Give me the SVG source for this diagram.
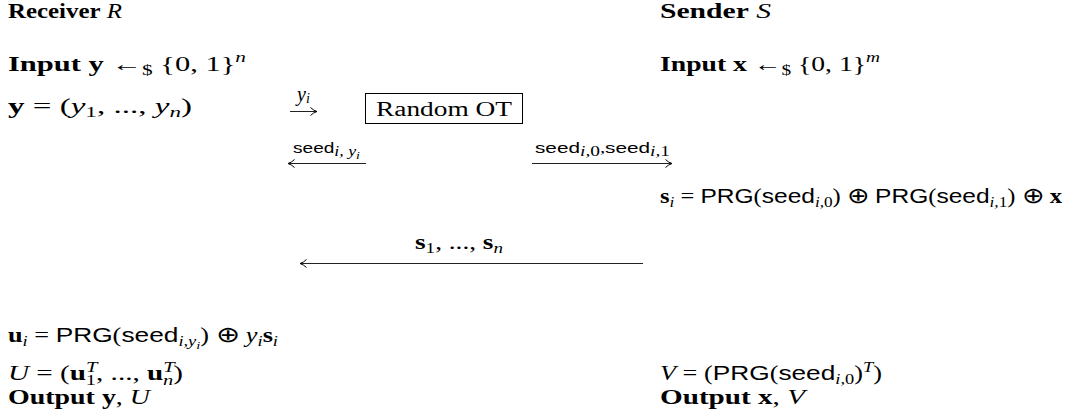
<svg xmlns="http://www.w3.org/2000/svg" width="1073" height="414" viewBox="0 0 1073 414">
  <style>
    text { font-family: "Liberation Serif", "DejaVu Serif", serif; font-size: 20px; fill: #000; }
    .b { font-weight: bold; }
    .i { font-style: italic; }
    .sf { font-family: "Liberation Sans", "DejaVu Sans", sans-serif; font-style: normal; }
    .s { font-size: 14px; }
    .ss { font-size: 11px; }
    .lbl { font-size: 15px; }
    .op { font-family: "DejaVu Sans", sans-serif; font-weight: 200; font-size: 22px; }
    .box { fill: #fff; stroke: #000; stroke-width: 1; }
    .arrow { stroke: #222; stroke-width: 1; fill: none; marker-end: url(#head); }
  </style>
  <defs>
    <marker id="head" viewBox="0 0 8 10" refX="7.5" refY="5" markerWidth="8" markerHeight="10" orient="auto" markerUnits="userSpaceOnUse">
      <path d="M1,1 Q4,4 7.5,5 Q4,6 1,9" fill="none" stroke="#000" stroke-width="1"/>
    </marker>
  </defs>

  <!-- receiver column -->
  <g id="receiver">
    <text x="8" y="18" textLength="114" lengthAdjust="spacingAndGlyphs"><tspan class="b">Receiver</tspan> <tspan class="i">R</tspan></text>
    <text x="8" y="71" textLength="238" lengthAdjust="spacingAndGlyphs"><tspan class="b">Input y</tspan> ←<tspan class="s" dy="4">$</tspan><tspan dy="-4"> {0, 1}</tspan><tspan class="s i" dy="-9">n</tspan></text>
    <text x="8" y="113" textLength="184" lengthAdjust="spacingAndGlyphs"><tspan class="b">y</tspan> = (<tspan class="i">y</tspan><tspan class="s" dy="4">1</tspan><tspan dy="-4">, ..., </tspan><tspan class="i">y</tspan><tspan class="s i" dy="4">n</tspan><tspan dy="-4">)</tspan></text>
    <text x="8" y="342" textLength="270" lengthAdjust="spacingAndGlyphs"><tspan class="b">u</tspan><tspan class="s i" dy="4">i</tspan><tspan dy="-4"> = </tspan><tspan class="sf">PRG</tspan>(<tspan class="sf">seed</tspan><tspan class="s i" dy="4">i,y</tspan><tspan class="ss i" dy="3">i</tspan><tspan dy="-7">) </tspan><tspan class="op">⊕</tspan> <tspan class="i">y</tspan><tspan class="s i" dy="4">i</tspan><tspan class="b" dy="-4">s</tspan><tspan class="s i" dy="4">i</tspan></text>
    <text x="8" y="380" textLength="175" lengthAdjust="spacingAndGlyphs"><tspan class="i">U</tspan> = (<tspan class="b">u</tspan><tspan class="s i" dy="-8">T</tspan><tspan class="s" dx="-8" dy="13">1</tspan><tspan dy="-5">, ..., </tspan><tspan class="b">u</tspan><tspan class="s i" dy="-8">T</tspan><tspan class="s i" dx="-8" dy="13">n</tspan><tspan dy="-5">)</tspan></text>
    <text x="8" y="404" textLength="142" lengthAdjust="spacingAndGlyphs"><tspan class="b">Output y</tspan>, <tspan class="i">U</tspan></text>
  </g>

  <!-- sender column -->
  <g id="sender">
    <text x="660" y="18" textLength="111" lengthAdjust="spacingAndGlyphs"><tspan class="b">Sender</tspan> <tspan class="i">S</tspan></text>
    <text x="660" y="71" textLength="220" lengthAdjust="spacingAndGlyphs"><tspan class="b">Input x</tspan> ←<tspan class="s" dy="4">$</tspan><tspan dy="-4"> {0, 1}</tspan><tspan class="s i" dy="-9">m</tspan></text>
    <text x="660" y="203" textLength="402" lengthAdjust="spacingAndGlyphs"><tspan class="b">s</tspan><tspan class="s i" dy="4">i</tspan><tspan dy="-4"> = </tspan><tspan class="sf">PRG</tspan>(<tspan class="sf">seed</tspan><tspan class="s i" dy="4">i,</tspan><tspan class="s">0</tspan><tspan dy="-4">) </tspan><tspan class="op">⊕</tspan> <tspan class="sf">PRG</tspan>(<tspan class="sf">seed</tspan><tspan class="s i" dy="4">i,</tspan><tspan class="s">1</tspan><tspan dy="-4">) </tspan><tspan class="op">⊕</tspan> <tspan class="b">x</tspan></text>
    <text x="660" y="380" textLength="222" lengthAdjust="spacingAndGlyphs"><tspan class="i">V</tspan> = (<tspan class="sf">PRG</tspan>(<tspan class="sf">seed</tspan><tspan class="s i" dy="4">i,</tspan><tspan class="s">0</tspan><tspan dy="-4">)</tspan><tspan class="s i" dy="-8">T</tspan><tspan dy="8">)</tspan></text>
    <text x="660" y="404" textLength="145" lengthAdjust="spacingAndGlyphs"><tspan class="b">Output x</tspan>, <tspan class="i">V</tspan></text>
  </g>

  <!-- functionality box -->
  <g id="random-ot">
    <rect class="box" x="365.5" y="93.5" width="157" height="30"/>
    <text x="444" y="116" font-size="23" text-anchor="middle" textLength="136" lengthAdjust="spacingAndGlyphs">Random OT</text>
  </g>

  <!-- messages -->
  <g id="connectors">
    <line class="arrow" x1="290" y1="111.5" x2="317" y2="111.5"/>
    <text x="297" y="101" font-size="16" class="i">y<tspan class="s" dy="2">i</tspan></text>

    <line class="arrow" x1="366" y1="163.5" x2="288" y2="163.5"/>
    <text x="293" y="153" class="lbl" textLength="67" lengthAdjust="spacingAndGlyphs"><tspan class="sf">seed</tspan><tspan class="s i" dy="3">i, y</tspan><tspan class="ss i" dy="3">i</tspan></text>

    <line class="arrow" x1="532" y1="163.5" x2="672" y2="163.5"/>
    <text x="535" y="153" class="lbl" textLength="135" lengthAdjust="spacingAndGlyphs"><tspan class="sf">seed</tspan><tspan class="s i" dy="3">i,</tspan><tspan class="s">0</tspan><tspan dy="-3">,</tspan><tspan class="sf">seed</tspan><tspan class="s i" dy="3">i,</tspan><tspan class="s">1</tspan></text>

    <line class="arrow" x1="643" y1="263.5" x2="300" y2="263.5"/>
    <text x="415" y="249" textLength="88" lengthAdjust="spacingAndGlyphs"><tspan class="b">s</tspan><tspan class="s" dy="4">1</tspan><tspan dy="-4">, ..., </tspan><tspan class="b">s</tspan><tspan class="s i" dy="4">n</tspan></text>
  </g>
</svg>
